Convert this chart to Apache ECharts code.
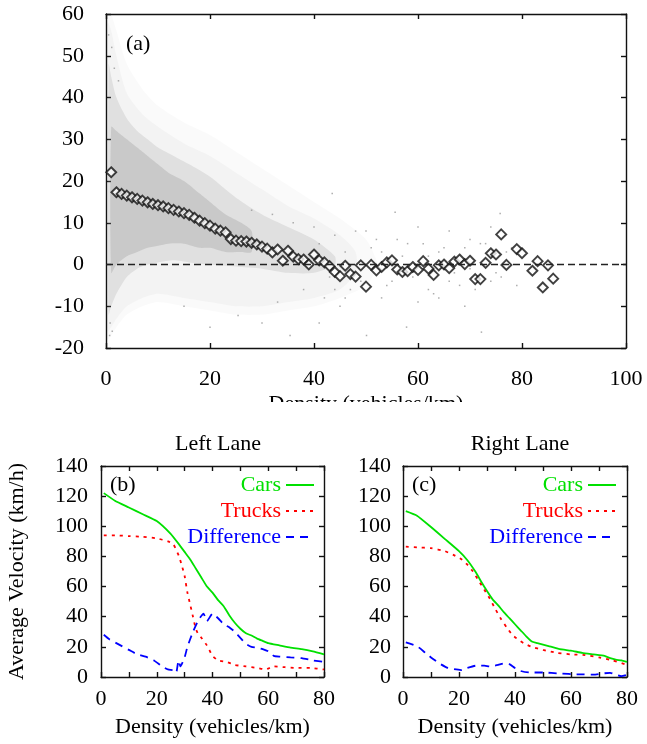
<!DOCTYPE html>
<html><head><meta charset="utf-8">
<script src="https://cdn.jsdelivr.net/npm/echarts@6/dist/echarts.min.js"></script>
<style>html,body{margin:0;padding:0;background:#fff}#c{width:647px;height:744px}</style>
</head><body><div id="c"></div>
<script>
// ---------- Panel (a): mean velocity difference vs density (diamonds) ----------
const densityA = [1,2,3,4,5,6,7,8,9,10,11,12,13,14,15,16,17,18,19,20,21,22,23,24,25,26,27,28,29,30,31,32,33,34,35,36,37,38,39,40,41,42,43,44,45,46,47,48,49,50,51,52,53,54,55,56,57,58,59,60,61,62,63,64,65,66,67,68,69,70,71,72,73,74,75,76,77,79,80,82,83,84,85,86];
const meanDiffA = [22.1,17.3,16.9,16.5,16.1,15.7,15.3,14.9,14.5,14.2,13.9,13.5,13.1,12.7,12.3,11.9,11.2,10.5,9.9,9.3,8.6,8.1,7.7,6.1,5.7,5.6,5.5,5.2,4.8,4.3,3.8,2.9,3.6,0.9,3.3,1.9,1.3,1.2,0.0,2.4,1.0,0.5,-0.4,-1.8,-2.8,-0.3,-2.3,-2.9,-0.2,-5.3,-0.1,-1.4,-0.6,0.5,1.0,-1.2,-1.8,-1.6,-0.6,-1.3,0.8,-1.0,-2.5,-0.2,0.0,-0.9,0.7,1.2,0.1,0.9,-3.5,-3.5,0.4,2.7,2.4,7.2,-0.1,3.7,2.7,-1.5,0.8,-5.5,-0.2,-3.4];

// raw data cloud, read as envelopes (faint halo / outer sparse / middle / dense core)
const cloudHaloX  = [0.2,1,2,4,7,10,15,20,25,30,35,40,45,50,52];
const cloudHaloLo = [-18,-17,-15,-12,-10,-9,-10,-11,-12,-12,-11,-10,-8,-5,-1];
const cloudHaloHi = [62,60,56,48,42,38,34,31,27,23,19,15,11,6,1];
const cloudOuterX  = [0.3,1,2,4,7,10,15,20,25,30,35,40,45,48];
const cloudOuterLo = [-16,-15,-13,-10,-8,-7,-8,-9,-10,-10,-9,-8,-6,-2];
const cloudOuterHi = [58,56,50,41,36,33,29,26,22,18,14,11,7,3];
const cloudMidX  = [0.5,1,2,4,6,8,10,13,16,20,25,30,35,40,44];
const cloudMidLo = [-12,-10,-7,-3,-1,0,0.5,1,0.5,0,-0.5,-1,-2,-2,0];
const cloudMidHi = [48,45,40,35,32,30,28,26,24,21,16,12,9,6,2];
const cloudCoreX  = [1,2,4,6,8,10,12,15,18,20,23,26,28];
const cloudCoreLo = [-2,0,2,3,4,4.5,5,5,4,4,3,3,3];
const cloudCoreHi = [33,32,30,28,26,24,22,20,17,15,12,10,8];
// isolated points of the cloud
const sparseX = [0.5,0.8,1.2,1.6,2.4,0.7,1.1,25.4,35.4,43.5,55.6,57.8,72.2,75.8,50.1,42,45,48,52,58,62,65,68,70,74,78,60,47,53,38,33,30,28,32,36,40,55,64,66,72,76,69,41,20,15,
  41,43,44,46,49,51,54,56,57,59,61,63,64,67,69,71,73,75,77,79,44,50,53,60,66,70,74,62,48,46];
const sparseY = [55,-14,-16,47,44,-17,52,-12.2,-17,17,12.5,-15,-16.2,12.2,-17,-8,-10,8,6,5,-6,4,-5,6,-4,4,9,-6,-8,-6,-9,-14,13,12,10,9,-4,-8,8,5,-3,-10,-14,-15,-10,
  5,-3,7,3,-4,4,-5,6,2,-3,5,-7,3,-2,4,-6,5,-2,3,-5,-6,8,3,-9,-4,-1,9,2,-2,-8];

// ---------- Panel (b): left lane ----------
const carsLX   = [1,5,10,15,20,25,28,30,32,34,36,38,40,42,44,46,48,50,52,54,56,58,60,64,68,72,76,80];
const carsL    = [122,117,112.5,108,103.5,95,88,83,78,72,66,60,56,51,47,41,36,32,29,27.5,25.5,24,22.5,21,19.5,18.5,17,15];
const trucksLX = [1,5,10,15,20,24,26,28,29,30,31,32,33,34,35,36,38,40,42,45,48,52,56,59,62,66,70,75,80];
const trucksL  = [94,94,93.5,93,92,90,88,80,74,67,56,48,40,32,28,26,21,14,11,10,8,7,6,5,7,6.5,6,6,5];
const diffLX   = [1,3,6,10,13,16,19,22,24,26,27,27.8,28.5,30,31,33,35,36.8,38,40,42,44,46,48,50,52,54,56,58,60,62,64,68,72,76,80];
const diffL    = [28,25,22,18,15,13.5,11,7,5,4.5,3,11,7,13,20,30,38,42,37,42,39,35,33,30,26,22,20,19.5,18.5,17,14,13.5,13,12.5,11,10];

// ---------- Panel (c): right lane ----------
const carsRX   = [1,5,10,15,20,23,26,28,30,32,34,36,38,40,42,44,46,48,52,56,60,64,68,72,74,76,78,80];
const carsR    = [110,107,99.5,91.5,83.5,77.5,69.5,63,57,51.5,47.5,43,39,35,31,27,23.5,22.5,20.5,18.5,17.5,16,15,14,12.5,11.5,11,10];
const trucksRX = [1,5,10,15,18,21,23,25,27,29,31,33,35,37,39,41,43,46,50,55,60,65,70,75,80];
const trucksR  = [86.5,86,85.5,83.5,81,78,74.5,70,64,58,52,45,38.5,33,28,25,22.5,20,18,16,15,14.5,13,11,8];
const diffRX   = [1,5,8,10,13,16,19,21,23,26,29,31,34,36,38,40,42,45,50,56,62,68,72,74,76,78,80];
const diffR    = [23,20.5,16,13,9,6,5,4.5,6,7.5,7.5,7,8,9,8.5,6,4,3,3,2.3,1.8,1.6,2.5,2.8,1.6,0.6,1.5];

// tick labels
const topXTicks = [0,20,40,60,80,100];
const topYTicks = [-20,-10,0,10,20,30,40,50,60];
const botXTicks = [0,20,40,60,80];
const botYTicks = [0,20,40,60,80,100,120,140];

// ---------- styling ----------
const FONT = "'Liberation Serif','Times New Roman',serif";
const FS = 22;
const GREEN = '#00e000', RED = '#ff0000', BLUE = '#0000ff';
const pairs = (xs, ys) => xs.map((x, i) => [x, ys[i]]);

function axisPair(grid, min, max, interval, labelled, isX, opts) {
  const base = {
    type: 'value', gridIndex: grid, min, max, interval,
    axisLine: { show: true, onZero: false, lineStyle: { color: '#111', width: 1.4 } },
    axisTick: { show: true, inside: true, length: 5, lineStyle: { color: '#111', width: 1.4 } },
    splitLine: { show: false },
    axisLabel: { show: false }
  };
  const main = Object.assign({}, base, {
    position: isX ? 'bottom' : 'left',
    axisLabel: {
      show: true, fontFamily: FONT, fontSize: FS, color: '#000', margin: opts.margin,
      formatter: v => labelled.indexOf(v) >= 0 ? String(v) : ''
    }
  }, opts.extra || {});
  const mirror = Object.assign({}, base, { position: isX ? 'top' : 'right' });
  return [main, mirror];
}

function band(xs, lo, hi, color, xi, yi) {
  return {
    type: 'custom', xAxisIndex: xi, yAxisIndex: yi, silent: true, z: 1, clip: true,
    data: xs.map((x, i) => [x, lo[i], hi[i]]),
    encode: { x: 0, y: [1, 2] },
    renderItem(params, api) {
      if (params.dataIndexInside !== 0) return null;
      const n = xs.length, pts = [];
      for (let i = 0; i < n; i++) pts.push(api.coord([api.value(0, i), api.value(2, i)]));
      for (let i = n - 1; i >= 0; i--) pts.push(api.coord([api.value(0, i), api.value(1, i)]));
      return { type: 'polygon', shape: { points: pts, smooth: 0.25 }, style: { fill: color } };
    }
  };
}

const nameStyle = { fontFamily: FONT, fontSize: FS, color: '#000' };
const ax0 = axisPair(0, 0, 100, 20, topXTicks, true, { margin: 20, extra: { name: 'Density (vehicles/km)', nameLocation: 'middle', nameGap: 45, nameTextStyle: nameStyle } });
const ay0 = axisPair(0, -20, 60, 10, topYTicks, false, { margin: 22 });
const ax1 = axisPair(1, 0, 80, 10, botXTicks, true, { margin: 11, extra: { name: 'Density (vehicles/km)', nameLocation: 'middle', nameGap: 39, nameTextStyle: nameStyle } });
const ay1 = axisPair(1, 0, 140, 20, botYTicks, false, { margin: 13, extra: { name: 'Average Velocity (km/h)', nameLocation: 'middle', nameGap: 73, nameTextStyle: nameStyle } });
const ax2 = axisPair(2, 0, 80, 10, botXTicks, true, { margin: 11, extra: { name: 'Density (vehicles/km)', nameLocation: 'middle', nameGap: 39, nameTextStyle: nameStyle } });
const ay2 = axisPair(2, 0, 140, 20, botYTicks, false, { margin: 12 });

function lineS(name, xs, ys, color, type, xi) {
  return {
    name, type: 'line', xAxisIndex: xi, yAxisIndex: xi, data: pairs(xs, ys),
    symbol: 'none', smooth: 0.15, z: 3,
    lineStyle: { color, width: 1.8, type }, itemStyle: { color }
  };
}

function legendFor(rightPx) {
  return {
    orient: 'vertical', align: 'right', right: rightPx, top: 474, padding: 0,
    itemWidth: 28, itemHeight: 2, itemGap: 4,
    itemStyle: { opacity: 0 },
    textStyle: { fontFamily: FONT, fontSize: FS, lineHeight: 21 },
    selectedMode: false,
    data: [
      { name: 'Cars', textStyle: { color: GREEN } },
      { name: 'Trucks', textStyle: { color: RED } },
      { name: 'Difference', textStyle: { color: BLUE } }
    ]
  };
}

const chart = echarts.init(document.getElementById('c'), null, { renderer: 'canvas' });
chart.setOption({
  backgroundColor: '#fff',
  animation: false,
  title: [
    { text: 'Left Lane', left: 213, top: 428, textAlign: 'center', textStyle: { fontFamily: FONT, fontSize: FS, fontWeight: 'normal', color: '#000' } },
    { text: 'Right Lane', left: 515, top: 428, textAlign: 'center', textStyle: { fontFamily: FONT, fontSize: FS, fontWeight: 'normal', color: '#000' } }
  ],
  grid: [
    { left: 106, top: 14, width: 520, height: 334 },
    { left: 101, top: 466, width: 223, height: 211 },
    { left: 403, top: 466, width: 224, height: 211 }
  ],
  xAxis: [ax0[0], ax0[1], ax1[0], ax1[1], ax2[0], ax2[1]],
  yAxis: [ay0[0], ay0[1], ay1[0], ay1[1], ay2[0], ay2[1]],
  legend: [legendFor(332), legendFor(30)],
  series: [
    band(cloudHaloX, cloudHaloLo, cloudHaloHi, 'rgba(130,130,130,0.04)', 0, 0),
    band(cloudOuterX, cloudOuterLo, cloudOuterHi, 'rgba(130,130,130,0.06)', 0, 0),
    band(cloudMidX, cloudMidLo, cloudMidHi, 'rgba(130,130,130,0.17)', 0, 0),
    band(cloudCoreX, cloudCoreLo, cloudCoreHi, 'rgba(120,120,120,0.22)', 0, 0),
    {
      type: 'scatter', xAxisIndex: 0, yAxisIndex: 0, silent: true, z: 2,
      data: pairs(sparseX, sparseY), symbol: 'rect', symbolSize: 1.5,
      itemStyle: { color: '#999' }
    },
    {
      name: 'Mean difference', type: 'scatter', xAxisIndex: 0, yAxisIndex: 0, z: 4,
      data: pairs(densityA, meanDiffA), symbol: 'diamond', symbolSize: 10,
      itemStyle: { color: '#fff', borderColor: '#111', borderWidth: 1.9 },
      markLine: {
        silent: true, symbol: 'none', label: { show: false },
        lineStyle: { color: '#222', width: 1.3, type: [7, 4] },
        data: [{ yAxis: 0 }]
      }
    },
    lineS('Cars', carsLX, carsL, GREEN, 'solid', 2),
    lineS('Trucks', trucksLX, trucksL, RED, [3, 5], 2),
    lineS('Difference', diffLX, diffL, BLUE, [8, 6], 2),
    lineS('Cars', carsRX, carsR, GREEN, 'solid', 4),
    lineS('Trucks', trucksRX, trucksR, RED, [3, 5], 4),
    lineS('Difference', diffRX, diffR, BLUE, [8, 6], 4)
  ],
  graphic: [
    { type: 'text', left: 126, top: 33, style: { text: '(a)', font: FS + 'px ' + FONT, fill: '#000' } },
    { type: 'text', left: 110, top: 474, style: { text: '(b)', font: FS + 'px ' + FONT, fill: '#000' } },
    { type: 'text', left: 412, top: 474, style: { text: '(c)', font: FS + 'px ' + FONT, fill: '#000' } },
    { type: 'rect', z: 100, shape: { x: 0, y: 402, width: 647, height: 22 }, style: { fill: '#fff' } }
  ]
});
</script>
</body></html>
